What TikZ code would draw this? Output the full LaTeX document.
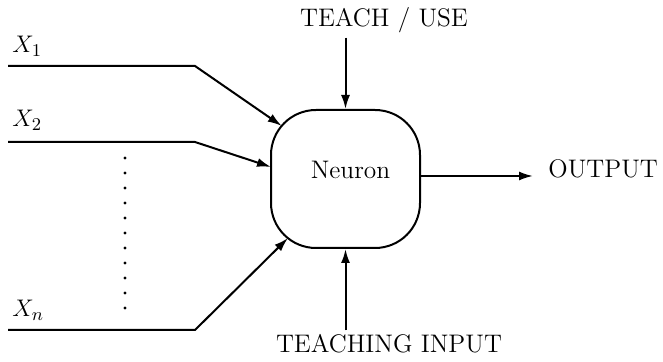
\documentclass[tikz,border=0pt]{standalone}
\usetikzlibrary{arrows.meta,calc}
\tikzset{
  neurone/.style = {rectangle, draw, line width=1pt, rounded corners=22.5pt, minimum width=74.5pt, minimum height=69pt, inner sep=0pt},
  et/.style      = {font=\fontsize{12.7}{15}\selectfont, inner sep=2pt},
  link/.style    = {line width=1pt, -{Latex[length=7pt,width=4.5pt]}}
}

\begin{document}
\begin{tikzpicture}[x=0.5pt, y=-0.5pt]
  \useasboundingbox (0,0) rectangle (663,362);
  % neurone con insegnamento, ingresso di insegnamento e uscita
  \node[neurone, label={[et, xshift=2.5pt, yshift=4.5pt]center:Neuron}] (N) at (345.5,179) {};
  \node[et, anchor=base] (teach) at (384,27) {TEACH / USE};
  \node[et, anchor=base] (tin) at (389,353) {TEACHING INPUT};
  \node[et, anchor=base west, inner xsep=7.5pt] (out) at (533,178) {OUTPUT};
  \draw[link] (teach.south -| N.north) -- (N.north);
  \draw[link] (tin.north -| N.south) -- (N.south);
  \draw[link] ([yshift=1.5pt]N.east) -- ([yshift=1.5pt]N.east -| out.west);
  % ingressi X_1 ... X_n
  \node[et, anchor=base west] (x1) at (8,53) {$X_1$};
  \node[et, anchor=base west] (x2) at (8,127) {$X_2$};
  \node[et, anchor=base west] (xn) at (8,317) {$X_n$};
  \coordinate (s1) at (8,66);  \coordinate (k1) at (195,66);
  \coordinate (s2) at (8,142); \coordinate (k2) at (195,142);
  \coordinate (sn) at (8,330); \coordinate (kn) at (195,330);
  \draw[link] (s1) -- (k1) -- ($(N.center)+(-63.8,-53.1)$);
  \draw[link] (s2) -- (k2) -- ($(N.center)+(-74.5,-12)$);
  \draw[link] (sn) -- (kn) -- ($(N.center)+(-57.5,59)$);
  \foreach \k in {0,...,10} \fill (125,158+15*\k) circle (0.8pt);
\end{tikzpicture}
\end{document}
